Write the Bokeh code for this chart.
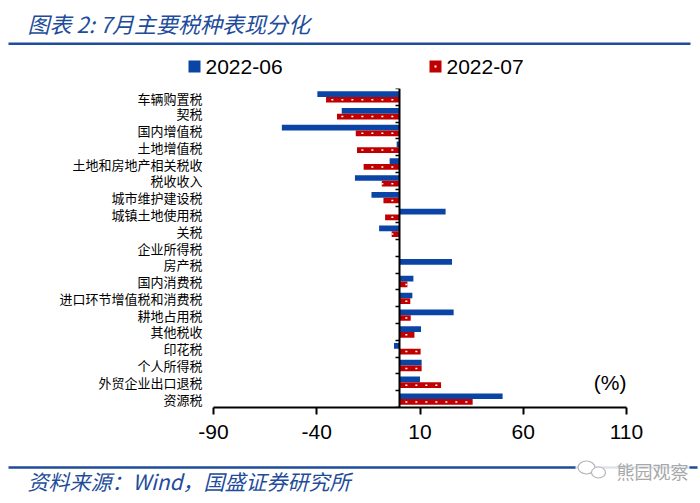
from bokeh.plotting import figure
from bokeh.models import Range1d, LinearAxis, FixedTicker, Label, ColumnDataSource
from bokeh.layouts import column
from bokeh.core.properties import value
from bokeh.embed import file_html
from bokeh.resources import INLINE

# ---------------- data ----------------
categories = ["车辆购置税", "契税", "国内增值税", "土地增值税", "土地和房地产相关税收",
              "税收收入", "城市维护建设税", "城镇土地使用税", "关税", "企业所得税",
              "房产税", "国内消费税", "进口环节增值税和消费税", "耕地占用税", "其他税收",
              "印花税", "个人所得税", "外贸企业出口退税", "资源税"]
jun_2022 = [-39.7, -27.9, -56.9, -1.3, -4.7, -21.5, -13.5, 22.4, -9.8, 0.3,
            25.5, 6.8, 6.3, 26.3, 10.5, -2.6, 10.8, 10.0, 50.0]
jul_2022 = [-35.5, -30.2, -21.1, -20.5, -17.3, -8.5, -7.7, -6.9, -3.7, 0.2,
            0.0, 3.9, 5.3, 5.5, 7.3, 10.3, 10.8, 20.2, 35.5]
series_names = ["2022-06", "2022-07"]
x_ticks = [-90, -40, 10, 60, 110]
title_text = "图表 2:  7月主要税种表现分化"
source_text = "资料来源：Wind，国盛证券研究所"
unit_text = "(%)"
watermark_text = "熊园观察"

BLUE = "#0A45A6"
RED = "#C00000"
NAVY = "#1E4C9A"
CJK = "Noto Sans CJK SC"
LAT = "Liberation Sans"

W = 700
HEAD_H = 88          # header strip height (frame top of main chart)
MAIN_H = 365         # main chart height
FOOT_H = 503 - HEAD_H - MAIN_H
FL, FR = 213, 626    # frame left / right
FB = 407 - HEAD_H    # frame bottom inside main figure


def strip(h):
    f = figure(width=W, height=h, x_range=Range1d(0, W), y_range=Range1d(h, 0),
               output_backend="svg", toolbar_location=None,
               x_axis_location=None, y_axis_location=None,
               min_border=0, min_border_left=0, min_border_right=0,
               min_border_top=0, min_border_bottom=0, frame_align=False)
    f.outline_line_color = None
    f.xgrid.visible = False
    f.ygrid.visible = False
    f.border_fill_color = "white"
    f.background_fill_color = "white"
    return f


# ---------------- header ----------------
head = strip(HEAD_H)
head.text(x=[27], y=[22], text=[title_text], text_font=value(CJK), text_font_size="22px",
          text_font_style="italic", text_color=NAVY, text_baseline="middle")
head.line(x=[8, 690], y=[43.2, 43.2], line_color=NAVY, line_width=2.5)
leg_x = [188, 429]
leg_colors = [BLUE, RED]
head.rect(x=[lx + 6 for lx in leg_x], y=[66, 66], width=12, height=12,
          fill_color=leg_colors, line_color=None)
head.rect(x=[leg_x[1] + 6], y=[66], width=2, height=2, fill_color="white", line_color=None)
head.text(x=[lx + 17 for lx in leg_x], y=[66, 66], text=series_names, text_font=value(LAT),
          text_font_size="21px", text_color="black", text_baseline="middle")

# ---------------- main chart ----------------
n = len(categories)
idx = list(range(n))
src = ColumnDataSource(dict(
    y_jun=[i - 0.17 for i in idx],
    y_jul=[i + 0.17 for i in idx],
    jun=jun_2022, jul=jul_2022,
    zero=[0] * n,
))

p = figure(width=W, height=MAIN_H, x_range=Range1d(x_ticks[0], x_ticks[-1]),
           y_range=Range1d(n - 0.5, -0.5),
           output_backend="svg", toolbar_location=None,
           y_axis_location=None, frame_align=False,
           min_border_left=FL, min_border_right=W - FR,
           min_border_top=0, min_border_bottom=MAIN_H - FB)
p.outline_line_color = None
p.xgrid.visible = False
p.ygrid.visible = False
p.background_fill_color = "white"
p.border_fill_color = "white"

p.hbar(y="y_jun", left="zero", right="jun", height=0.34, source=src,
       fill_color=BLUE, line_color=None)
p.hbar(y="y_jul", left="zero", right="jul", height=0.34, source=src,
       fill_color=RED, line_color=None)
p.segment(x0="zero", y0="y_jul", x1="jul", y1="y_jul", source=src,
          line_color="white", line_width=1.5, line_dash="2 8", line_dash_offset=-6)

# x axis
xa = p.xaxis[0]
xa.ticker = FixedTicker(ticks=x_ticks)
xa.major_label_overrides = {t: str(t) for t in x_ticks}
xa.minor_tick_line_color = None
xa.axis_line_width = 2
xa.axis_line_color = "black"
xa.major_tick_line_width = 2
xa.major_tick_out = 7
xa.major_tick_in = 0
xa.major_label_standoff = 10
xa.major_label_text_font = LAT
xa.major_label_text_font_size = "21px"
xa.major_label_text_color = "black"

# category labels axis
ya = LinearAxis(ticker=FixedTicker(ticks=idx),
                major_label_overrides={i: c for i, c in zip(idx, categories)})
ya.axis_line_color = None
ya.major_tick_line_color = None
ya.minor_tick_line_color = None
ya.major_label_standoff = 5
ya.major_label_text_font = CJK
ya.major_label_text_font_size = "13px"
ya.major_label_text_color = "black"
p.add_layout(ya, "left")

# zero axis with ticks between categories
zticks = [i - 0.5 for i in range(n + 1)]
za = LinearAxis(fixed_location=0, ticker=FixedTicker(ticks=zticks),
                major_label_overrides={t: "" for t in zticks})
za.axis_line_width = 2
za.axis_line_color = "black"
za.major_tick_out = 4
za.major_tick_in = 0
za.major_tick_line_width = 1.5
za.minor_tick_line_color = None
za.major_label_standoff = 0
p.add_layout(za, "left")

# unit label (inside frame, screen units relative to frame)
p.add_layout(Label(x=FR - FL, y=FB - (382 - HEAD_H), x_units="screen", y_units="screen",
                   text=unit_text, text_font=LAT, text_font_size="21px",
                   text_color="black", text_align="right", text_baseline="middle"))

# ---------------- footer ----------------
top0 = HEAD_H + MAIN_H
foot = strip(FOOT_H)
foot.line(x=[8, 697], y=[467 - top0, 467 - top0], line_color=NAVY, line_width=2.5)
foot.text(x=[27], y=[480 - top0], text=[source_text], text_font=value(CJK),
          text_font_size="21px", text_font_style="italic", text_color=NAVY,
          text_baseline="middle")
# watermark (wechat-like bubbles + text on a white patch)
foot.rect(x=[632], y=[469 - top0], width=114, height=18, fill_color="white",
          fill_alpha=0.85, line_color=None)
foot.ellipse(x=[586, 598], y=[467 - top0, 472 - top0], width=[17, 14], height=[13, 11],
             fill_color="white", line_color="#b5b5b5", line_width=1.2)
foot.text(x=[688], y=[470 - top0], text=[watermark_text], text_font=value(CJK),
          text_font_size="18px", text_color="#a8a8a8", text_align="right",
          text_baseline="middle")

layout = column(head, p, foot, spacing=0)
open("out.html", "w").write(file_html(layout, INLINE))
